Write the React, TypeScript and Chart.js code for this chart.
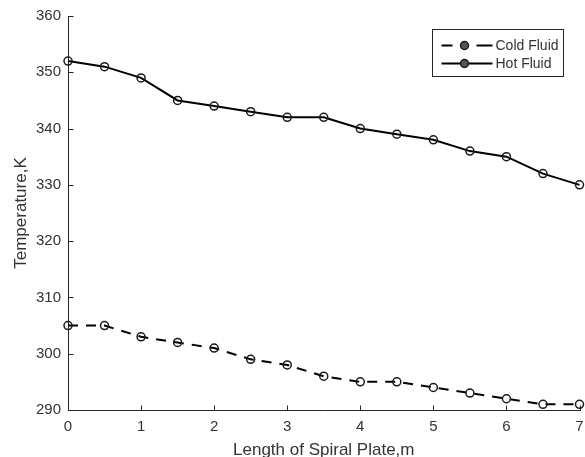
import React, { useEffect, useRef } from 'react';
import { Chart, registerables } from 'chart.js';

Chart.register(...registerables);

const lengths = [0, 0.5, 1, 1.5, 2, 2.5, 3, 3.5, 4, 4.5, 5, 5.5, 6, 6.5, 7];
const coldFluid = [305, 305, 303, 302, 301, 299, 298, 296, 295, 295, 294, 293, 292, 291, 291];
const hotFluid = [352, 351, 349, 345, 344, 343, 342, 342, 340, 339, 338, 336, 335, 332, 330];
const xTicks = [0, 1, 2, 3, 4, 5, 6, 7];
const yTicks = [290, 300, 310, 320, 330, 340, 350, 360];
const seriesNames = ['Cold Fluid', 'Hot Fluid'];
const xTitle = 'Length of Spiral Plate,m';
const yTitle = 'Temperature,K';

const FONT = "'Liberation Sans', Arial, Helvetica, sans-serif";
const TEXT = '#333333';
const AXIS = '#262626';

function drawMarker(ctx: CanvasRenderingContext2D, x: number, y: number) {
  ctx.beginPath();
  ctx.arc(x, y, 4, 0, Math.PI * 2);
  ctx.stroke();
}

const axesPlugin = {
  id: 'matlabAxes',
  beforeDatasetsDraw(chart: any) {
    const { ctx, chartArea } = chart;
    const { left, right, top, bottom } = chartArea;
    const xs = chart.scales.x;
    const ys = chart.scales.y;
    ctx.save();
    ctx.strokeStyle = AXIS;
    ctx.lineWidth = 1;
    ctx.beginPath();
    const L = Math.round(left) + 0.5;
    const B = Math.round(bottom) + 0.5;
    ctx.moveTo(L, Math.round(top));
    ctx.lineTo(L, B);
    ctx.lineTo(Math.round(right) + 1, B);
    xTicks.forEach((v) => {
      const px = Math.round(xs.getPixelForValue(v)) + 0.5;
      ctx.moveTo(px, B);
      ctx.lineTo(px, B - 5);
    });
    yTicks.forEach((v) => {
      const py = Math.round(ys.getPixelForValue(v)) + 0.5;
      ctx.moveTo(L, py);
      ctx.lineTo(L + 5, py);
    });
    ctx.stroke();
    ctx.restore();
  },
  afterDraw(chart: any) {
    const { ctx, chartArea } = chart;
    const boxW = 131;
    const boxH = 47;
    const bx = Math.round(chartArea.right) - 17 - boxW + 0.5;
    const by = Math.round(chartArea.top) + 13 + 0.5;
    ctx.save();
    ctx.fillStyle = '#ffffff';
    ctx.fillRect(bx, by, boxW, boxH);
    ctx.strokeStyle = '#262626';
    ctx.lineWidth = 1;
    ctx.strokeRect(bx, by, boxW, boxH);

    const rows = [by + 16, by + 34];
    ctx.strokeStyle = '#000000';
    ctx.lineWidth = 2;
    // Cold fluid: dashed sample
    ctx.beginPath();
    ctx.moveTo(bx + 9, rows[0]);
    ctx.lineTo(bx + 20, rows[0]);
    ctx.moveTo(bx + 44, rows[0]);
    ctx.lineTo(bx + 60, rows[0]);
    ctx.stroke();
    // Hot fluid: solid sample
    ctx.beginPath();
    ctx.moveTo(bx + 9, rows[1]);
    ctx.lineTo(bx + 60, rows[1]);
    ctx.stroke();
    ctx.lineWidth = 1.5;
    ctx.strokeStyle = '#1a1a1a';
    ctx.fillStyle = '#555555';
    rows.forEach((ry) => {
      ctx.beginPath();
      ctx.arc(bx + 32, ry, 4, 0, Math.PI * 2);
      ctx.fill();
      ctx.stroke();
    });

    ctx.fillStyle = TEXT;
    ctx.font = `14px ${FONT}`;
    ctx.textAlign = 'left';
    ctx.textBaseline = 'middle';
    seriesNames.forEach((name, i) => {
      ctx.fillText(name, bx + 63, rows[i] + 1);
    });
    ctx.restore();
  },
};

export default function App() {
  const canvasRef = useRef<HTMLCanvasElement | null>(null);

  useEffect(() => {
    const canvas = canvasRef.current;
    if (!canvas) return;
    const lineCommon = {
      borderColor: '#000000',
      borderWidth: 2,
      pointRadius: 4,
      pointHoverRadius: 4,
      pointBorderWidth: 1.5,
      pointBorderColor: '#1a1a1a',
      pointBackgroundColor: 'rgba(0,0,0,0)',
      tension: 0,
      clip: false as any,
      fill: false,
    };
    const chart = new Chart(canvas, {
      type: 'line',
      data: {
        datasets: [
          {
            ...lineCommon,
            label: seriesNames[0],
            data: lengths.map((x, i) => ({ x, y: coldFluid[i] })),
            borderDash: [10, 8],
          },
          {
            ...lineCommon,
            label: seriesNames[1],
            data: lengths.map((x, i) => ({ x, y: hotFluid[i] })),
          },
        ],
      },
      options: {
        responsive: false,
        animation: false,
        events: [],
        layout: { padding: { top: 16, right: 3, left: 0, bottom: 0 } },
        plugins: {
          legend: { display: false },
          tooltip: { enabled: false },
        },
        scales: {
          x: {
            type: 'linear',
            min: 0,
            max: 7,
            grid: { display: false, drawTicks: false },
            border: { display: false },
            ticks: {
              stepSize: 1,
              color: TEXT,
              font: { family: FONT, size: 15 },
              padding: 8,
              maxRotation: 0,
            },
            title: {
              display: true,
              text: xTitle,
              color: TEXT,
              font: { family: FONT, size: 17, lineHeight: '14px' },
              padding: 0,
            },
            afterFit: (s: any) => {
              s.height = 47;
              s.paddingLeft = 0;
              s.paddingRight = 0;
            },
          },
          y: {
            type: 'linear',
            min: 290,
            max: 360,
            grid: { display: false, drawTicks: false },
            border: { display: false },
            ticks: {
              stepSize: 10,
              color: TEXT,
              font: { family: FONT, size: 15 },
              padding: 7,
            },
            title: {
              display: true,
              text: yTitle,
              color: TEXT,
              font: { family: FONT, size: 17, lineHeight: '20px' },
              padding: { top: 11, bottom: 0 },
            },
            afterFit: (s: any) => {
              s.width = 68;
              s.paddingTop = 0;
              s.paddingBottom = 0;
            },
          },
        },
      },
      plugins: [axesPlugin],
    });
    return () => chart.destroy();
  }, []);

  return (
    <div style={{ position: 'absolute', left: 0, top: 0, width: 585, height: 457, background: '#fff' }}>
      <canvas ref={canvasRef} width={585} height={457} style={{ display: 'block' }} />
    </div>
  );
}
